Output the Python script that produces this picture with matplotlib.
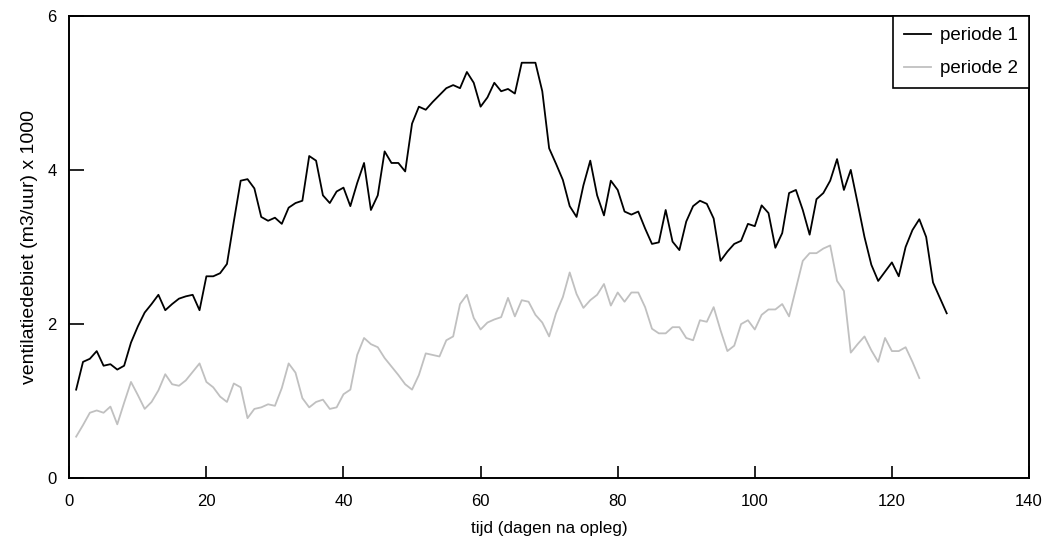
import numpy as np
import matplotlib
matplotlib.use('Agg')
import matplotlib.pyplot as plt

plt.rcParams['font.family'] = ['Liberation Sans', 'DejaVu Sans']

# days after placement
days1 = np.arange(1, 129)
days2 = np.arange(1, 125)

# ventilation rate (m3/uur) x 1000, period 1
periode1 = [1.15, 1.51, 1.55, 1.65, 1.46, 1.48, 1.41, 1.46, 1.76, 1.97,
            2.15, 2.26, 2.38, 2.18, 2.26, 2.33, 2.36, 2.38, 2.18, 2.62,
            2.62, 2.66, 2.78, 3.33, 3.86, 3.88, 3.76, 3.39, 3.34, 3.38,
            3.30, 3.51, 3.57, 3.60, 4.18, 4.12, 3.67, 3.57, 3.72, 3.77,
            3.53, 3.83, 4.09, 3.48, 3.67, 4.24, 4.09, 4.09, 3.98, 4.60,
            4.82, 4.78, 4.88, 4.97, 5.06, 5.10, 5.06, 5.27, 5.13, 4.82,
            4.94, 5.13, 5.02, 5.05, 4.99, 5.39, 5.39, 5.39, 5.02, 4.28,
            4.08, 3.87, 3.53, 3.39, 3.80, 4.12, 3.67, 3.41, 3.86, 3.74,
            3.46, 3.42, 3.46, 3.24, 3.04, 3.06, 3.48, 3.07, 2.96, 3.33,
            3.53, 3.60, 3.56, 3.37, 2.82, 2.94, 3.04, 3.08, 3.30, 3.27,
            3.54, 3.44, 2.99, 3.18, 3.70, 3.74, 3.48, 3.16, 3.62, 3.70,
            3.86, 4.14, 3.74, 4.00, 3.57, 3.13, 2.77, 2.56, 2.68, 2.80,
            2.62, 3.00, 3.22, 3.36, 3.13, 2.54, 2.34, 2.14]

# period 2
periode2 = [0.54, 0.69, 0.85, 0.88, 0.85, 0.93, 0.70, 0.98, 1.25, 1.08,
            0.90, 0.99, 1.14, 1.35, 1.22, 1.20, 1.27, 1.38, 1.49, 1.25,
            1.18, 1.06, 0.99, 1.23, 1.18, 0.78, 0.90, 0.92, 0.96, 0.94,
            1.17, 1.49, 1.37, 1.04, 0.92, 0.99, 1.02, 0.90, 0.92, 1.09,
            1.15, 1.60, 1.82, 1.74, 1.70, 1.56, 1.45, 1.34, 1.22, 1.15,
            1.34, 1.62, 1.60, 1.58, 1.79, 1.84, 2.26, 2.38, 2.08, 1.93,
            2.02, 2.06, 2.09, 2.34, 2.10, 2.31, 2.29, 2.12, 2.02, 1.84,
            2.14, 2.35, 2.67, 2.39, 2.21, 2.31, 2.38, 2.52, 2.24, 2.41,
            2.29, 2.41, 2.41, 2.22, 1.94, 1.88, 1.88, 1.96, 1.96, 1.82,
            1.79, 2.05, 2.03, 2.22, 1.92, 1.65, 1.72, 2.00, 2.05, 1.93,
            2.12, 2.19, 2.19, 2.26, 2.10, 2.46, 2.82, 2.92, 2.92, 2.98,
            3.02, 2.56, 2.43, 1.63, 1.74, 1.84, 1.66, 1.51, 1.82, 1.65,
            1.65, 1.70, 1.51, 1.30]

fig = plt.figure(figsize=(10.53, 5.47), dpi=100)
ax = fig.add_axes([0.0658, 0.1256, 0.9114, 0.8457])

ax.plot(days1, periode1, color='black', lw=1.3, label='periode 1')
ax.plot(days2, periode2, color='#c0c0c0', lw=1.3, label='periode 2')

ax.set_xlim(0, 140)
ax.set_ylim(0, 6)
ax.set_xticks(np.arange(0, 141, 20))
ax.set_yticks([0, 2, 4, 6])
ax.tick_params(axis='x', direction='in', length=8.5, width=1.2, labelsize=12, pad=11)
ax.tick_params(axis='y', direction='in', length=11, width=1.2, labelsize=12, pad=9)
for s in ax.spines.values():
    s.set_linewidth(1.4)

ax.set_xlabel('tijd (dagen na opleg)', fontsize=12.3, labelpad=9)
ax.set_ylabel('ventilatiedebiet (m3/uur) x 1000', fontsize=14, labelpad=7)

leg = ax.legend(loc='upper right', bbox_to_anchor=(1, 1), borderaxespad=0,
                fancybox=False, framealpha=1, edgecolor='black',
                fontsize=13.5, handlelength=1.45, handletextpad=0.45,
                borderpad=0.6, labelspacing=0.85)
leg.get_frame().set_linewidth(1.2)

plt.savefig('out.png', dpi=100)
